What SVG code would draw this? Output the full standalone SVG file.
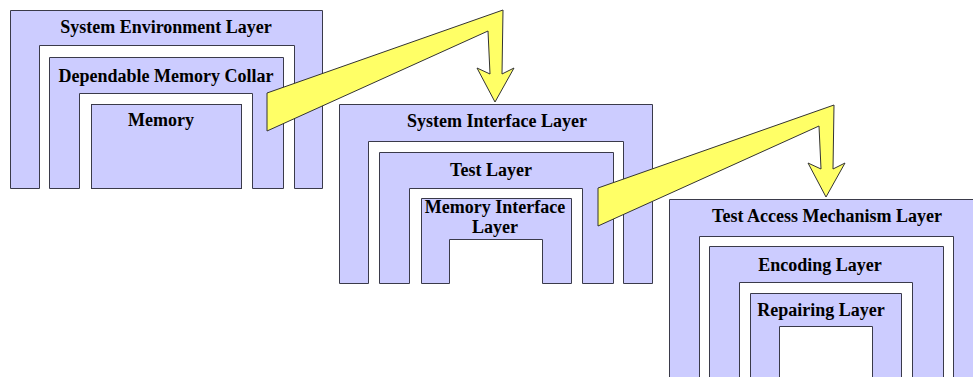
<svg xmlns="http://www.w3.org/2000/svg" width="973" height="377" viewBox="0 0 973 377">
  <style>
    .layer { fill: #ccccff; stroke: #3a3a4a; stroke-width: 1; }
    .label { font-family: "Liberation Serif", "Times New Roman", serif; font-size: 18px; font-weight: bold; fill: #000; text-anchor: middle; }
    .flow { fill: #ffff66; stroke: #333; stroke-width: 1; stroke-linejoin: miter; }
  </style>
  <defs>
    <!-- bent block arrow: wide band rising to the right, then dropping into an arrowhead -->
    <path id="bent-arrow" d="M267,131 L267,93 L503,10 L502,74 L514,68 L495,102 L477,68 L490,74 L488,31 Z"/>
  </defs>

  <rect width="973" height="377" fill="#fff"/>

  <!-- Stack 1 -->
  <g id="system-environment-layer">
    <path class="layer" d="M10.5,188.5 V10.5 H322.5 V188.5 H294.5 V45.5 H39.5 V188.5 Z"/>
    <text class="label" x="166" y="33">System Environment Layer</text>
  </g>
  <g id="dependable-memory-collar">
    <path class="layer" d="M49.5,188.5 V57.5 H283.5 V188.5 H252.5 V93.5 H79.5 V188.5 Z"/>
    <text class="label" x="166" y="82">Dependable Memory Collar</text>
  </g>
  <g id="memory">
    <rect class="layer" x="91.5" y="104.5" width="150" height="84"/>
    <text class="label" x="161" y="126">Memory</text>
  </g>

  <!-- Stack 2 -->
  <g id="system-interface-layer">
    <path class="layer" d="M339.5,283.5 V104.5 H652.5 V283.5 H623.5 V141.5 H368.5 V283.5 Z"/>
    <text class="label" x="497" y="127">System Interface Layer</text>
  </g>
  <g id="test-layer">
    <path class="layer" d="M379.5,283.5 V152.5 H613.5 V283.5 H582.5 V188.5 H409.5 V283.5 Z"/>
    <text class="label" x="491" y="176">Test Layer</text>
  </g>
  <g id="memory-interface-layer">
    <path class="layer" d="M421.5,283.5 V198.5 H571.5 V283.5 H542.5 V239.5 H449.5 V283.5 Z"/>
    <text class="label" x="495" y="213">Memory Interface</text>
    <text class="label" x="495" y="233">Layer</text>
  </g>

  <!-- Stack 3 (runs past the right and bottom edges) -->
  <g id="test-access-mechanism-layer">
    <path class="layer" d="M669.5,380 V199.5 H982.5 V380 H953.5 V236.5 H699.5 V380 Z"/>
    <text class="label" x="827" y="222">Test Access Mechanism Layer</text>
  </g>
  <g id="encoding-layer">
    <path class="layer" d="M709.5,380 V246.5 H943.5 V380 H912.5 V282.5 H739.5 V380 Z"/>
    <text class="label" x="820" y="271">Encoding Layer</text>
  </g>
  <g id="repairing-layer">
    <path class="layer" d="M750.5,380 V293.5 H901.5 V380 H872.5 V326.5 H779.5 V380 Z"/>
    <text class="label" x="821" y="316">Repairing Layer</text>
  </g>

  <!-- Connectors -->
  <g id="connectors">
    <use href="#bent-arrow" class="flow"/>
    <use href="#bent-arrow" class="flow" transform="translate(331,95)"/>
  </g>
</svg>
